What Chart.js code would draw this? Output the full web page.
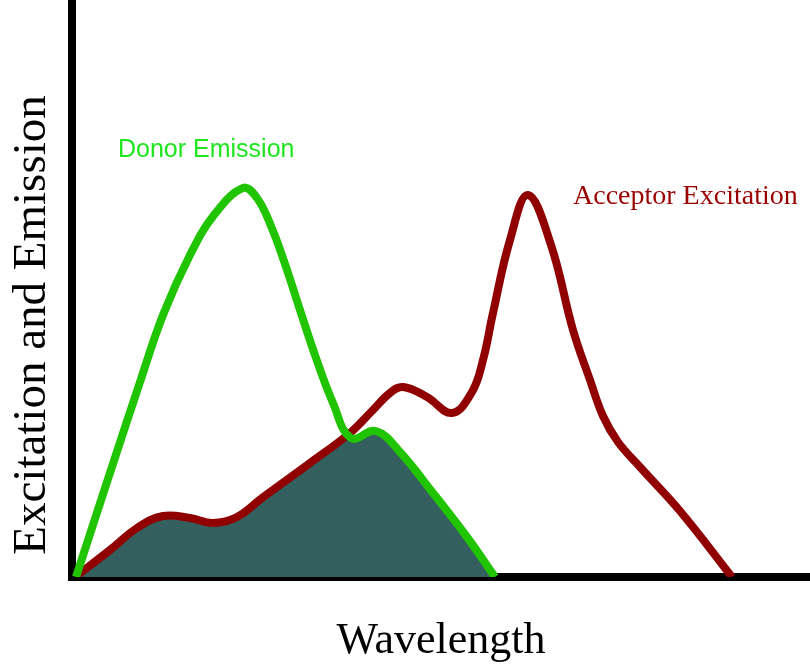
<!DOCTYPE html>
<html>
<head>
<meta charset="utf-8">
<title>Donor Emission / Acceptor Excitation</title>
<script src="https://cdn.jsdelivr.net/npm/chart.js@4/dist/chart.umd.min.js"></script>
<style>
  html, body { margin: 0; padding: 0; background: #fff; }
  #wrap { width: 810px; height: 669px; }
</style>
</head>
<body>
<div id="wrap"><canvas id="fret" width="810" height="669"></canvas></div>
<script>
// ---- Data (arbitrary units) ----
const greenX = [4, 35, 68, 91, 118, 142, 171, 185, 199, 213, 228, 244, 261, 279, 304, 328, 361, 395, 423];
const greenY = [0, 95, 195, 262, 322, 362, 389, 379, 351, 313, 267, 219, 174, 139, 146, 125, 84, 40, 0];

const redX = [3, 38, 65, 91, 118, 141, 165, 190, 238, 278, 300, 318, 331, 355, 380, 400, 411, 421, 438, 456,
              479, 501, 518, 531, 546, 568, 608, 660];
const redY = [0, 27, 49, 61, 59, 54, 60, 79, 114, 144, 166, 184, 190, 180, 164, 185, 217, 264, 337, 382,
              332, 247, 197, 161, 135, 110, 66, 0];

const seriesNames = ['Donor Emission', 'Acceptor Excitation'];
const axisTitles = ['Wavelength', 'Excitation and Emission'];

const toPoints = (xs, ys) => xs.map((x, i) => ({ x: x, y: ys[i] }));

// ---- Overlap (area under both curves) ----
const overlapFill = {
  id: 'overlapFill',
  beforeDatasetsDraw(chart) {
    const { ctx, chartArea } = chart;
    const base = chart.scales.y.getPixelForValue(0);
    const area = (line) => {
      line.updateControlPoints(chartArea, 'x');
      const pts = line.points;
      ctx.beginPath();
      line.path(ctx);
      ctx.lineTo(pts[pts.length - 1].x, base);
      ctx.lineTo(pts[0].x, base);
      ctx.closePath();
    };
    ctx.save();
    area(chart.getDatasetMeta(1).dataset);
    ctx.clip();
    area(chart.getDatasetMeta(0).dataset);
    ctx.fillStyle = '#335f5f';
    ctx.fill();
    ctx.restore();
  }
};

// ---- Series labels + y title ----
const labels = {
  id: 'labels',
  afterDraw(chart) {
    const { ctx } = chart;
    const sx = chart.scales.x, sy = chart.scales.y;
    ctx.save();
    ctx.textBaseline = 'alphabetic';
    ctx.textAlign = 'left';

    ctx.font = '25px "Liberation Sans", Arial, sans-serif';
    ctx.fillStyle = '#1ee61e';
    ctx.fillText(seriesNames[0], sx.getPixelForValue(46), sy.getPixelForValue(420));

    ctx.font = '28px "Liberation Serif", "Times New Roman", serif';
    ctx.fillStyle = '#990000';
    ctx.fillText(seriesNames[1], sx.getPixelForValue(501), sy.getPixelForValue(373));

    // rotated y title
    ctx.translate(45, 325);
    ctx.rotate(-Math.PI / 2);
    ctx.textAlign = 'center';
    ctx.font = '47px "Liberation Serif", "Times New Roman", serif';
    ctx.fillStyle = '#000';
    ctx.fillText(axisTitles[1], 0, 0);
    ctx.restore();
  }
};

new Chart(document.getElementById('fret'), {
  type: 'line',
  data: {
    datasets: [
      {
        label: seriesNames[0],
        data: toPoints(greenX, greenY),
        borderColor: '#21c400',
        borderWidth: 8,
        pointRadius: 0,
        fill: false,
        tension: 0.4,
        borderJoinStyle: 'round'
      },
      {
        label: seriesNames[1],
        data: toPoints(redX, redY),
        borderColor: '#900000',
        borderWidth: 8,
        pointRadius: 0,
        fill: false,
        tension: 0.4,
        borderJoinStyle: 'round'
      }
    ]
  },
  options: {
    responsive: false,
    animation: false,
    layout: { padding: 0 },
    plugins: {
      legend: { display: false },
      tooltip: { enabled: false }
    },
    scales: {
      x: {
        type: 'linear',
        min: 0,
        max: 738,
        ticks: { display: false },
        grid: { display: false },
        border: { display: true, color: '#000', width: 8 },
        title: {
          display: true,
          text: axisTitles[0],
          color: '#000',
          font: { family: '"Liberation Serif", "Times New Roman", serif', size: 44 },
          padding: { top: 0, bottom: 1 }
        },
        afterFit: (scale) => { scale.height = 92; }
      },
      y: {
        type: 'linear',
        min: 0,
        max: 577,
        ticks: { display: false },
        grid: { display: false },
        border: { display: true, color: '#000', width: 8 },
        afterFit: (scale) => { scale.width = 72; }
      }
    }
  },
  plugins: [overlapFill, labels]
});
</script>
</body>
</html>
